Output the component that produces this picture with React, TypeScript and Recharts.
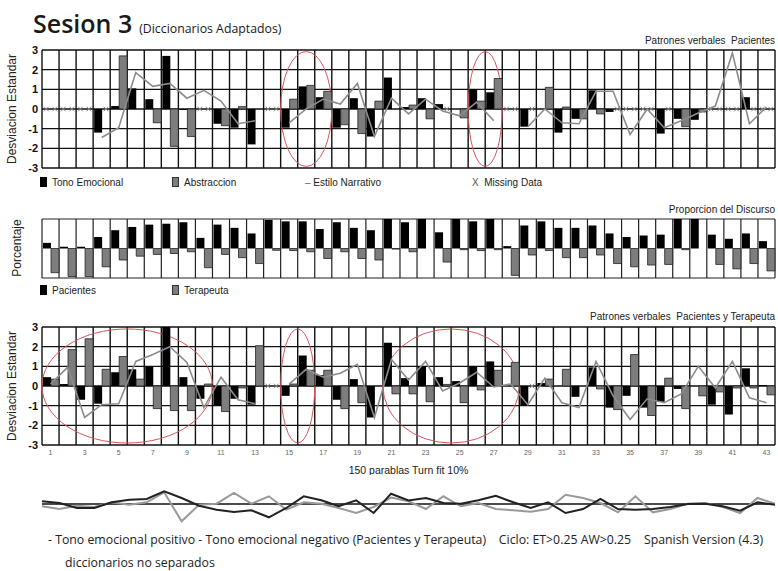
import React from "react";
import {
  ComposedChart,
  LineChart,
  Bar,
  Line,
  XAxis,
  YAxis,
  CartesianGrid,
  ReferenceArea,
  ReferenceLine,
} from "recharts";

// turnos (43 celdas)
const turns = [
  1, 2, 3, 4, 5, 6, 7, 8, 9, 10, 11, 12, 13, 14, 15, 16, 17, 18, 19, 20, 21, 22,
  23, 24, 25, 26, 27, 28, 29, 30, 31, 32, 33, 34, 35, 36, 37, 38, 39, 40, 41, 42, 43,
];

// Patrones verbales Pacientes (null = missing data)
const tonoEmocional1 = [
  null, null, null, -1.2, 0.15, 1.05, 0.5, 2.7, -0.05, null, -0.75, -0.95, -1.8, null,
  -0.95, 1.15, 0.6, -0.95, 0.55, -1.4, 1.6, 0.1, 0.55, 0.25, 0, 1.0, 0.85, null, -0.9,
  0, -1.2, -0.5, 0.95, -0.15, null, null, -1.25, -0.5, -0.55, null, null, 0.6, null,
];
const abstraccion1 = [
  null, null, null, null, 2.7, 0, -0.7, -1.9, -1.4, null, -0.85, 0.12, 0, null, 0.5,
  1.2, 0.9, -0.8, -1.25, 0.4, 0, 0.2, -0.5, null, -0.45, 0.4, 1.55, null, null, 1.1,
  0.1, -0.5, -0.25, null, null, null, null, -0.9, -0.15, null, null, null, null,
];
const estiloNarrativo1 = [
  null, null, null, -1.45, -0.95, 1.85, 1.15, 1.3, 0.55, 0.95, 0.4, -0.75, -0.6, null,
  -0.7, 0.0, 0.5, 0.25, 1.3, -1.4, 0.55, -0.25, 0.5, -0.1, -0.35, 0.35, -0.6, null,
  -0.9, 0.0, -0.7, -0.75, 0.9, 0.9, -1.3, 0.0, -0.95, -0.6, -0.2, 0.15, 2.85, -0.75, 0.1,
];

// Proporcion del Discurso (%)
const pacientes = [
  19, 6, 6, 39, 62, 73, 81, 84, 89, 36, 81, 70, 51, 97, 92, 92, 66, 89, 70, 62, 100,
  89, 100, 55, 100, 92, 100, 8, 78, 92, 70, 70, 78, 51, 39, 44, 47, 100, 100, 47, 33, 51, 25,
];
const terapeuta = [
  82, 95, 95, 62, 39, 26, 20, 17, 11, 65, 20, 31, 51, 6, 7, 11, 34, 11, 34, 39, 2, 11,
  0, 46, 4, 7, 4, 91, 22, 7, 31, 31, 22, 51, 62, 56, 54, 4, 0, 54, 69, 51, 76,
];

// Patrones verbales Pacientes y Terapeuta
const tonoEmocional3 = [
  0.45, 0.1, -0.7, -0.9, 0.7, 0.85, 1.0, 3.0, 0.45, -0.65, -1.0, -0.65, -0.95, null,
  -0.5, 1.55, 0.55, -0.7, 0.35, -1.6, 2.2, 0.4, 1.0, 0.45, 0.25, 1.0, 1.25, 0, -1.0,
  0.15, 0, -0.55, 0.95, -1.1, -0.5, -1.1, -0.8, -0.15, 0, -0.95, -1.45, 0.9, 0.05,
];
const abstraccion3 = [
  0.35, 1.85, 2.4, 0.85, 1.5, 0.35, -1.15, -1.25, -1.25, 0.1, -1.3, -0.1, 2.05, null,
  0.1, 0.8, 0.8, -1.15, -0.85, 0, -0.4, -0.4, -0.8, 0.08, -0.85, -0.2, 0.8, 1.2, null,
  0.35, 0.85, 0, -0.15, -1.2, 1.6, -1.5, 0.4, -1.15, -0.5, -0.3, -0.1, -0.1, -0.45,
];
const estiloNarrativo3 = [
  0.1, 0.95, -1.6, -0.95, -0.9, 1.25, 1.6, 2.0, 1.2, -1.1, 0.45, -0.7, -0.9, null, 0.1,
  0.85, 0.45, 0.65, 1.1, -1.6, 1.35, 0.3, 1.25, -0.25, 0.15, 0.7, -0.05, 0.1, -0.95,
  0.4, -0.85, -1.1, 1.25, -0.5, -1.7, -0.65, -0.85, -0.4, 1.0, -0.1, 1.25, -0.6, -0.85,
];

// Ciclo: tono emocional positivo / negativo
const tonoPositivo = [
  0.27, 0.1, -0.4, -0.4, 0.17, 0.43, 0.5, 1.27, 0.6, -0.17, -0.57, -0.8, -0.63, -1.33,
  -0.4, 0.77, 0.37, -0.23, 0.37, -0.9, 1.03, 0.35, 0.6, 0.1, 0.03, 0.37, 0.83, 0.17,
  -0.4, 0.17, -0.9, -0.5, 0.5, -0.5, -0.57, -0.5, -0.3, 0, 0.03, -0.23, -0.67, 0.17, -0.07,
];
const tonoNegativo = [
  -0.23, -0.5, -0.17, -0.3, 0.17, -0.07, 0.17, 1.17, -1.73, -0.07, 0.03, 1.1, 0.03,
  0.77, -0.57, 0.17, 0.03, -0.4, -0.9, -0.3, 0.65, 0.27, -0.5, 0.77, -0.23, 0.1, -0.5,
  -0.63, -0.77, -0.5, 0.93, 0.6, 0.1, -0.83, 0.77, -0.83, -0.5, 0.03, 0.1, -0.3, -0.9, 0.6, 0.03,
];

const sdTicks = [-3, -2, -1, 0, 1, 2, 3];
const turnLabels = turns;

const N = turns.length;
const W = 778;
const SANS = "'Liberation Sans', Arial, sans-serif";
const COND = "'Open Sans', 'Noto Sans', sans-serif";

const panel1 = turns.map((turn, i) => ({
  turn,
  tono: tonoEmocional1[i],
  abst: abstraccion1[i],
  estilo: estiloNarrativo1[i],
  faltaTono: tonoEmocional1[i] === null ? 0 : null,
  faltaAbst: abstraccion1[i] === null ? 0 : null,
}));

const panel2 = turns.map((turn, i) => ({
  turn,
  pac: pacientes[i],
  ter: -terapeuta[i],
}));

const panel3 = turns.map((turn, i) => ({
  turn,
  tono: tonoEmocional3[i],
  abst: abstraccion3[i],
  estilo: estiloNarrativo3[i],
  faltaTono: tonoEmocional3[i] === null ? 0 : null,
  faltaAbst: abstraccion3[i] === null ? 0 : null,
}));

const ciclo = turns.map((turn, i) => ({
  turn,
  pos: tonoPositivo[i],
  neg: tonoNegativo[i],
}));

// grid lines on the cell boundaries, not on the cell centres
const cellEdges = ({ offset }: any) =>
  Array.from({ length: N + 1 }, (_, i) => offset.left + (i * offset.width) / N);
const boxEdges = ({ offset }: any) => [offset.top, offset.top + offset.height];

const MissMark = ({ cx, cy, dx }: any) => {
  if (cx == null || cy == null) return <g />;
  const x = cx + dx;
  return (
    <g stroke="#8a8a8a" strokeWidth={1}>
      <line x1={x - 2.3} y1={cy - 2.3} x2={x + 2.3} y2={cy + 2.3} />
      <line x1={x - 2.3} y1={cy + 2.3} x2={x + 2.3} y2={cy - 2.3} />
    </g>
  );
};

const Oval = (p: any) => (
  <ellipse
    cx={p.x + p.width / 2}
    cy={p.y + p.height / 2}
    rx={p.width / 2}
    ry={p.height / 2}
    fill="none"
    stroke="#d8575a"
    strokeWidth={1}
  />
);

function PatronesPanel({
  data,
  height,
  marginTop,
  marginBottom,
  showTurns,
  ovals,
}: {
  data: any[];
  height: number;
  marginTop: number;
  marginBottom: number;
  showTurns: boolean;
  ovals: number[][];
}) {
  return (
    <ComposedChart
      width={W}
      height={height}
      data={data}
      margin={{ top: marginTop, right: 3, bottom: marginBottom, left: 0 }}
      barCategoryGap={1}
      barGap={0}
    >
      <CartesianGrid
        stroke="#111"
        strokeWidth={1.4}
        verticalCoordinatesGenerator={cellEdges}
      />
      <XAxis
        dataKey="turn"
        hide={!showTurns}
        height={30}
        interval={1}
        ticks={turnLabels}
        axisLine={false}
        tickLine={false}
        tickSize={3}
        tickMargin={2}
        tick={{ fontSize: 7, fill: "#666", fontFamily: SANS }}
        label={{
          value: "150 parablas Turn fit 10%",
          position: "insideBottom",
          offset: 1,
          style: { fontSize: 10.5, fill: "#222", fontFamily: SANS },
        }}
      />
      <YAxis
        width={42}
        domain={[-3, 3]}
        ticks={sdTicks}
        interval={0}
        axisLine={false}
        tickLine={false}
        tickSize={0}
        tickMargin={4}
        tick={{ fontSize: 11, fill: "#111", fontFamily: SANS, fontWeight: 600 }}
        label={{
          value: "Desviacion Estandar",
          angle: -90,
          position: "insideLeft",
          offset: 12,
          style: { textAnchor: "middle", fontSize: 12, fill: "#222", fontFamily: SANS },
        }}
      />
      <Bar dataKey="tono" fill="#000" isAnimationActive={false} />
      <Bar dataKey="abst" fill="#7d7d7d" stroke="#222" strokeWidth={0.8} isAnimationActive={false} />
      <Line
        dataKey="estilo"
        type="linear"
        stroke="#8c8c8c"
        strokeWidth={1.6}
        dot={false}
        isAnimationActive={false}
      />
      <Line
        dataKey="faltaTono"
        stroke="none"
        dot={(p: any) => <MissMark key={`a${p.index}`} {...p} dx={-4.2} />}
        activeDot={false}
        isAnimationActive={false}
      />
      <Line
        dataKey="faltaAbst"
        stroke="none"
        dot={(p: any) => <MissMark key={`b${p.index}`} {...p} dx={4.2} />}
        activeDot={false}
        isAnimationActive={false}
      />
      {ovals.map(([x1, x2, h], i) => (
        <ReferenceArea key={i} x1={x1} x2={x2} y1={-h} y2={h} shape={Oval} />
      ))}
    </ComposedChart>
  );
}

const abs = (left: number, top: number, extra: any = {}): any => ({
  position: "absolute",
  left,
  top,
  whiteSpace: "pre",
  ...extra,
});

const swatch = (color: string): any => ({
  display: "inline-block",
  width: 5,
  height: 8,
  background: color,
  border: color === "#000" ? "1px solid #000" : "1px solid #333",
  marginRight: 5,
  verticalAlign: "-1px",
});

export default function App() {
  const legendText = { fontFamily: SANS, fontSize: 10, color: "#222", lineHeight: "12px" };
  const footText = {
    fontFamily: COND,
    fontSize: 12.3,
    fontWeight: 500,
    color: "#222",
    lineHeight: "16px",
  };
  return (
    <div
      style={{
        position: "absolute",
        left: 0,
        top: 0,
        width: W,
        height: 571,
        background: "#fff",
        overflow: "hidden",
      }}
    >
      <div style={abs(33, 8, { fontFamily: COND, lineHeight: "30px", color: "#1a1a1a" })}>
        <span style={{ fontSize: 25, fontWeight: 600 }}>Sesion 3</span>
        <span style={{ fontSize: 12.3, fontWeight: 500, marginLeft: 7 }}>(Diccionarios Adaptados)</span>
      </div>

      <div style={abs(0, 0)}>
        <PatronesPanel
          data={panel1}
          height={176}
          marginTop={50}
          marginBottom={8}
          showTurns={false}
          ovals={[
            [15, 17, 2.92],
            [26, 27, 2.92],
          ]}
        />
      </div>
      <div style={abs(0, 35, { ...legendText, width: 775, textAlign: "right" })}>
        {"Patrones verbales  Pacientes"}
      </div>

      <div style={abs(40, 177, legendText)}>
        <span style={swatch("#000")} />
        Tono Emocional
      </div>
      <div style={abs(172, 177, legendText)}>
        <span style={swatch("#7d7d7d")} />
        Abstraccion
      </div>
      <div style={abs(305, 177, legendText)}>
        <span style={{ color: "#666" }}>–</span> Estilo Narrativo
      </div>
      <div style={abs(472, 177, legendText)}>
        <span style={{ color: "#555" }}>X</span>  Missing Data
      </div>

      <div style={abs(0, 204, { ...legendText, width: 775, textAlign: "right" })}>
        Proporcion del Discurso
      </div>
      <div style={abs(0, 200)}>
        <ComposedChart
          width={W}
          height={80}
          data={panel2}
          margin={{ top: 19, right: 3, bottom: 2, left: 42 }}
          barCategoryGap={1}
          barGap={0}
        >
          <CartesianGrid
            stroke="#222"
            strokeWidth={1.2}
            verticalCoordinatesGenerator={cellEdges}
            horizontalCoordinatesGenerator={boxEdges}
          />
          <XAxis dataKey="turn" hide />
          <YAxis hide domain={[-100, 100]} />
          <Bar dataKey="pac" fill="#000" isAnimationActive={false} />
          <Bar dataKey="ter" fill="#7d7d7d" stroke="#222" strokeWidth={0.8} isAnimationActive={false} />
        </ComposedChart>
      </div>
      <div style={abs(17, 248)}>
        <div
          style={{
            transform: "translate(-50%, -50%) rotate(-90deg)",
            fontFamily: SANS,
            fontSize: 12,
            color: "#222",
            whiteSpace: "nowrap",
          }}
        >
          Porcentaje
        </div>
      </div>
      <div style={abs(40, 285, legendText)}>
        <span style={swatch("#000")} />
        Pacientes
      </div>
      <div style={abs(172, 285, legendText)}>
        <span style={swatch("#7d7d7d")} />
        Terapeuta
      </div>

      <div style={abs(0, 311, { ...legendText, width: 775, textAlign: "right" })}>
        {"Patrones verbales  Pacientes y Terapeuta"}
      </div>
      <div style={abs(0, 300)}>
        <PatronesPanel
          data={panel3}
          height={175}
          marginTop={27}
          marginBottom={0}
          showTurns={true}
          ovals={[
            [1, 10, 2.9],
            [15, 16, 2.9],
            [21, 28, 2.9],
          ]}
        />
      </div>

      <div style={abs(0, 480)}>
        <LineChart
          width={W}
          height={50}
          data={ciclo}
          margin={{ top: 4, right: 3, bottom: 6, left: 42 }}
        >
          <XAxis dataKey="turn" hide />
          <YAxis hide domain={[-2, 2]} />
          <ReferenceLine y={0} stroke="#111" strokeWidth={1.5} />
          <Line
            dataKey="neg"
            type="linear"
            stroke="#9a9a9a"
            strokeWidth={2}
            dot={false}
            isAnimationActive={false}
          />
          <Line
            dataKey="pos"
            type="linear"
            stroke="#222"
            strokeWidth={2}
            dot={false}
            isAnimationActive={false}
          />
        </LineChart>
      </div>

      <div style={abs(48, 532, footText)}>
        {"- Tono emocional positivo - Tono emocional negativo (Pacientes y Terapeuta)    Ciclo: ET>0.25 AW>0.25    Spanish Version (4.3)"}
      </div>
      <div style={abs(65, 555, footText)}>diccionarios no separados</div>
    </div>
  );
}
